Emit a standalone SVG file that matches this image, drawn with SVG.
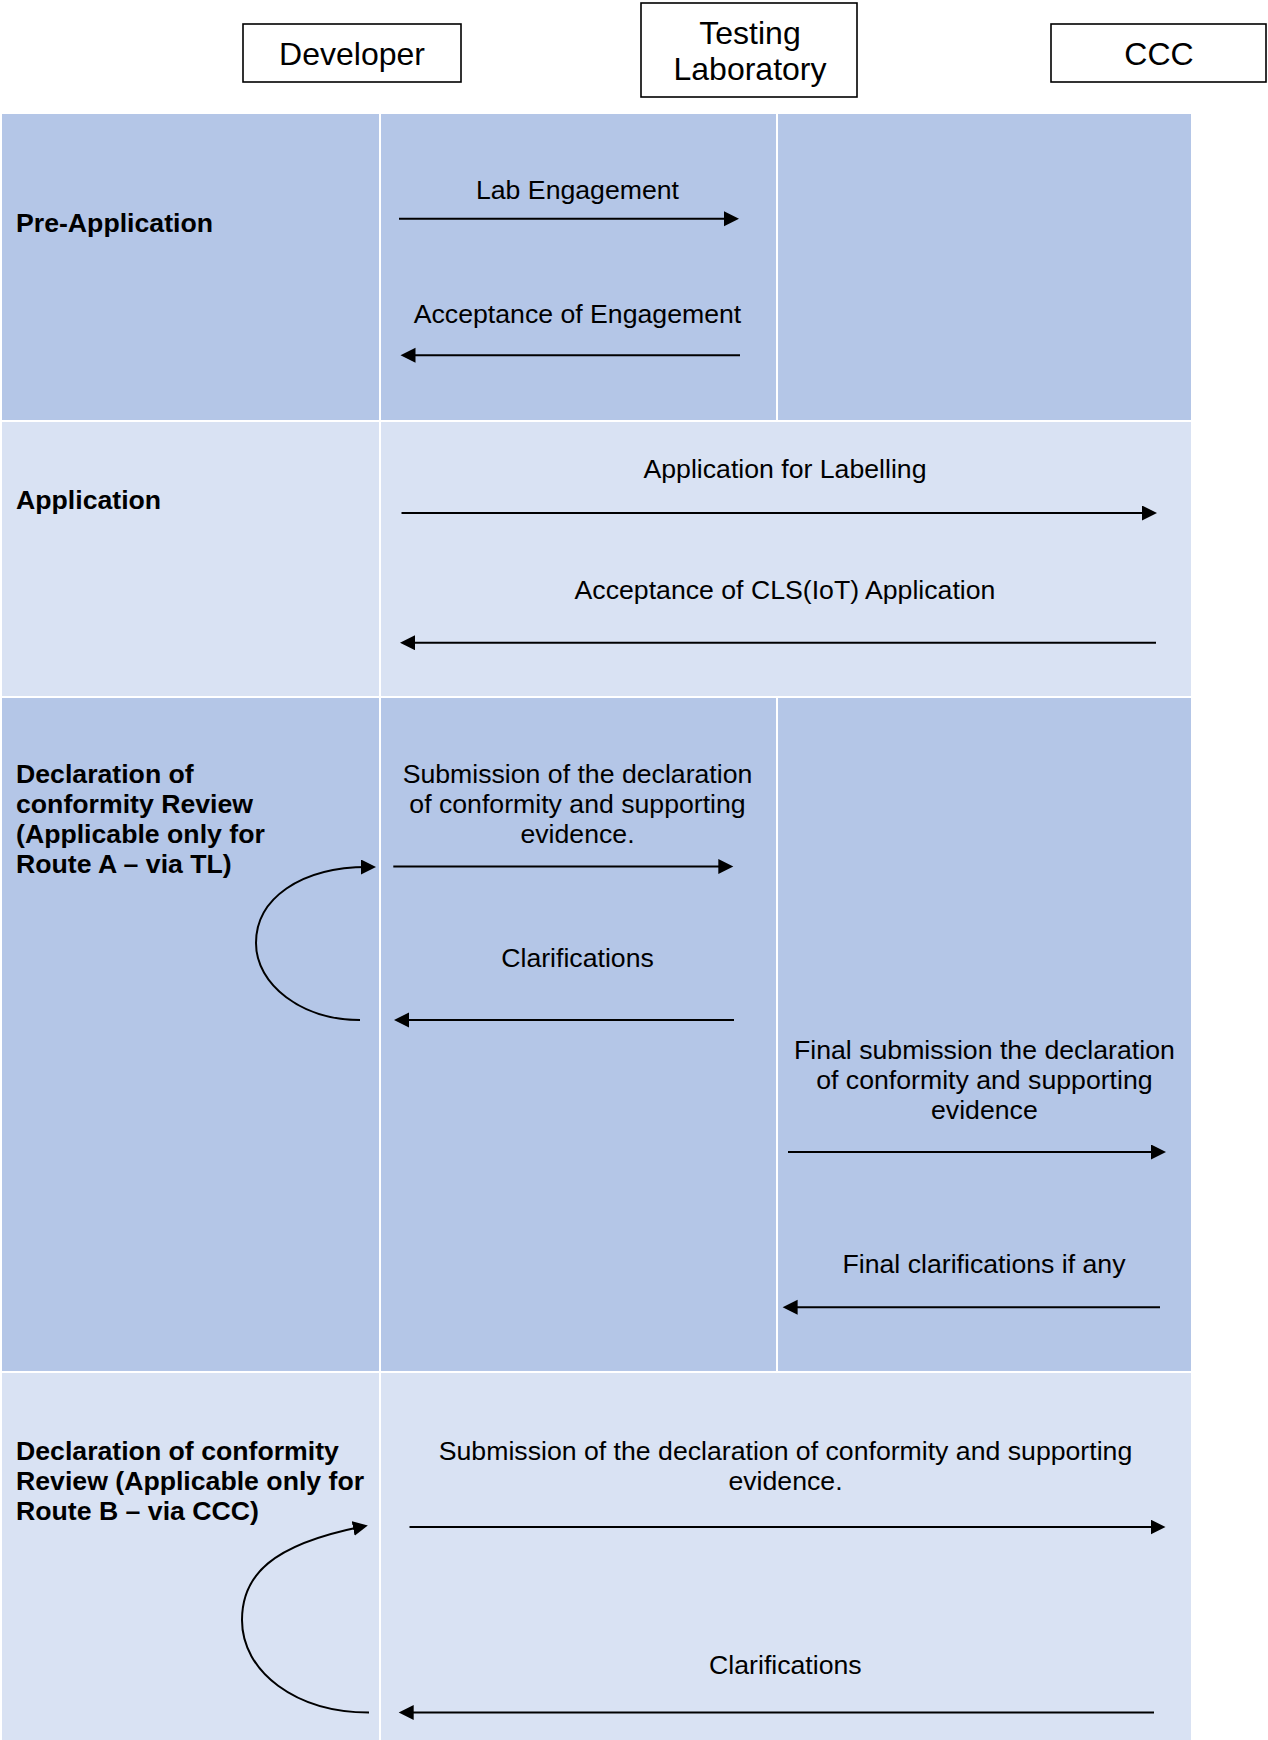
<svg xmlns="http://www.w3.org/2000/svg" width="1268" height="1740" viewBox="0 0 1268 1740">
  <style>
    .dark { fill: #B4C6E7; }
    .light { fill: #D9E2F3; }
    .hdr { fill: #FFFFFF; stroke: #000000; stroke-width: 1.6; }
    .hdrtxt { font-family: "Liberation Sans", Arial, sans-serif; font-size: 32px; fill: #000000; text-anchor: middle; }
    .lbl { font-family: "Liberation Sans", Arial, sans-serif; font-size: 26.67px; font-weight: bold; fill: #000000; }
    .msg { font-family: "Liberation Sans", Arial, sans-serif; font-size: 26.67px; fill: #000000; text-anchor: middle; }
    .conn { fill: none; stroke: #000000; stroke-width: 2; marker-end: url(#arrow); }
  </style>
  <defs>
    <marker id="arrow" markerUnits="userSpaceOnUse" markerWidth="16" markerHeight="16" refX="7" refY="7.5" orient="auto">
      <path d="M0,0 L15,7.5 L0,15 z" fill="#000000"/>
    </marker>
  </defs>
  <rect x="0" y="0" width="1268" height="1740" fill="#FFFFFF"/>

  <!-- swimlane table -->
  <g id="table">
    <rect class="dark" x="2" y="114" width="377" height="306"/>
    <rect class="dark" x="381" y="114" width="395" height="306"/>
    <rect class="dark" x="778" y="114" width="413" height="306"/>
    <rect class="light" x="2" y="422" width="377" height="274"/>
    <rect class="light" x="381" y="422" width="810" height="274"/>
    <rect class="dark" x="2" y="698" width="377" height="673"/>
    <rect class="dark" x="381" y="698" width="395" height="673"/>
    <rect class="dark" x="778" y="698" width="413" height="673"/>
    <rect class="light" x="2" y="1373" width="377" height="367"/>
    <rect class="light" x="381" y="1373" width="810" height="367"/>
  </g>

  <!-- header nodes -->
  <g id="node-developer">
    <rect class="hdr" x="243" y="24" width="218" height="58"/>
    <text class="hdrtxt" x="352" y="65">Developer</text>
  </g>
  <g id="node-testing-laboratory">
    <rect class="hdr" x="641" y="3" width="216" height="94"/>
    <text class="hdrtxt" x="750" y="43.5">Testing</text>
    <text class="hdrtxt" x="750" y="80">Laboratory</text>
  </g>
  <g id="node-ccc">
    <rect class="hdr" x="1051" y="24" width="215" height="58"/>
    <text class="hdrtxt" x="1159" y="65">CCC</text>
  </g>

  <!-- phase labels -->
  <g id="phase-pre-application">
    <text class="lbl" x="16" y="231.5">Pre-Application</text>
  </g>
  <g id="phase-application">
    <text class="lbl" x="16" y="508.5">Application</text>
  </g>
  <g id="phase-route-a">
    <text class="lbl" x="16" y="783.3">Declaration of</text>
    <text class="lbl" x="16" y="813.3">conformity Review</text>
    <text class="lbl" x="16" y="843.3">(Applicable only for</text>
    <text class="lbl" x="16" y="873.3">Route A – via TL)</text>
  </g>
  <g id="phase-route-b">
    <text class="lbl" x="16" y="1460">Declaration of conformity</text>
    <text class="lbl" x="16" y="1490">Review (Applicable only for</text>
    <text class="lbl" x="16" y="1520">Route B – via CCC)</text>
  </g>

  <!-- connectors -->
  <g id="connectors">
    <line class="conn" x1="399" y1="218.7" x2="731" y2="218.7"/>
    <text class="msg" x="577.5" y="199">Lab Engagement</text>

    <line class="conn" x1="740" y1="355.3" x2="408.5" y2="355.3"/>
    <text class="msg" x="577.5" y="322.7">Acceptance of Engagement</text>

    <line class="conn" x1="401.5" y1="513" x2="1149" y2="513"/>
    <text class="msg" x="785" y="478.3">Application for Labelling</text>

    <line class="conn" x1="1156" y1="642.7" x2="408" y2="642.7"/>
    <text class="msg" x="785" y="599.3">Acceptance of CLS(IoT) Application</text>

    <line class="conn" x1="393.3" y1="866.5" x2="725.3" y2="866.5"/>
    <text class="msg" x="577.5" y="783.3">Submission of the declaration</text>
    <text class="msg" x="577.5" y="813.3">of conformity and supporting</text>
    <text class="msg" x="577.5" y="843.3">evidence.</text>

    <line class="conn" x1="734" y1="1020" x2="402" y2="1020"/>
    <text class="msg" x="577.5" y="967.3">Clarifications</text>

    <path class="conn" d="M 360,1020 C 302,1020 256,985 256,943 C 256,899 300,867 368,867"/>

    <line class="conn" x1="788" y1="1152" x2="1158" y2="1152"/>
    <text class="msg" x="984.4" y="1059.3">Final submission the declaration</text>
    <text class="msg" x="984.4" y="1089.3">of conformity and supporting</text>
    <text class="msg" x="984.4" y="1119.3">evidence</text>

    <line class="conn" x1="1160" y1="1307.3" x2="790.6" y2="1307.3"/>
    <text class="msg" x="984" y="1273.3">Final clarifications if any</text>

    <line class="conn" x1="409.5" y1="1527" x2="1157.5" y2="1527"/>
    <text class="msg" x="785.5" y="1460">Submission of the declaration of conformity and supporting</text>
    <text class="msg" x="785.5" y="1490">evidence.</text>

    <line class="conn" x1="1154" y1="1712.5" x2="406.7" y2="1712.5"/>
    <text class="msg" x="785.4" y="1674">Clarifications</text>

    <path class="conn" d="M 369,1712.5 C 296,1712.5 242,1672 242,1620 C 242,1575 272,1545 360,1527"/>
  </g>
</svg>
